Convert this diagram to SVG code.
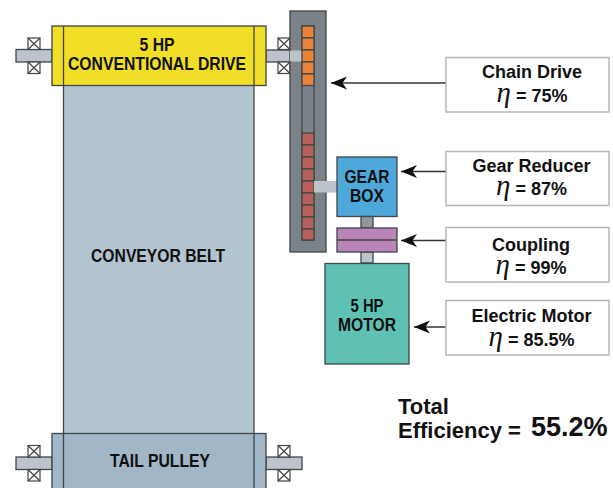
<svg xmlns="http://www.w3.org/2000/svg" width="613" height="488" viewBox="0 0 613 488">
<style>
.o{stroke:#3f4549;stroke-width:1.3}
.t{font-family:"Liberation Sans",Arial,sans-serif;font-weight:700;fill:#111;text-anchor:middle}
.d{font-size:18px}
.l{font-size:18px}
.e{font-family:"Liberation Serif","Times New Roman",serif;font-style:italic;font-weight:400;font-size:29px}
.box{fill:#fff;stroke:#b4b7b9;stroke-width:1.5}
.x{fill:#fff;stroke:#3f4549;stroke-width:1.2}
.s{fill:#bcc3cb}
.a{stroke:#333;stroke-width:1.5;fill:none;marker-end:url(#arr)}
</style>
<defs>
<marker id="arr" markerUnits="userSpaceOnUse" markerWidth="18" markerHeight="14" refX="17" refY="7" orient="auto">
<path d="M17 7L1 0.500L5.500 7L1 13.500Z" fill="#111"/>
</marker>
<g id="brg"><rect class="x" x="0" y="0" width="12" height="11.500"/><path class="x" d="M0 0L12 11.500M12 0L0 11.500" fill="none"/></g>
</defs>
<rect width="613" height="488" fill="#fff"/>
<g id="belt">
<rect class="o" x="63.500" y="80" width="190.500" height="360" fill="#b3c4d1"/>
<text class="t d" x="158" y="262" textLength="134" lengthAdjust="spacingAndGlyphs">CONVEYOR BELT</text>
</g>
<g id="head-shaft-left">
<rect class="o" x="16" y="49.500" width="36" height="12.500" fill="#bcc3cb"/>
<use href="#brg" x="28" y="38"/><use href="#brg" x="28" y="62"/>
</g>
<g id="head-shaft-right">
<rect class="o" x="266" y="50" width="37" height="12" fill="#bcc3cb"/>
<use href="#brg" x="278" y="38"/><use href="#brg" x="278" y="62"/>
</g>
<g id="drive">
<rect class="o" x="52" y="26" width="214" height="59.500" fill="#f0df26"/>
<path class="o" d="M63.500 26V85.500M254 26V85.500" fill="none"/>
<text class="t d" x="157" y="51" textLength="35" lengthAdjust="spacingAndGlyphs">5 HP</text>
<text class="t d" x="157" y="70" textLength="178" lengthAdjust="spacingAndGlyphs">CONVENTIONAL DRIVE</text>
</g>
<g id="tail-shafts">
<rect class="o" x="16" y="457" width="36" height="12.500" fill="#bcc3cb"/>
<use href="#brg" x="28" y="445.500"/><use href="#brg" x="28" y="469.500"/>
<rect class="o" x="266" y="457" width="36" height="12.500" fill="#bcc3cb"/>
<use href="#brg" x="278" y="445.500"/><use href="#brg" x="278" y="469.500"/>
</g>
<g id="tail-pulley">
<rect class="o" x="52" y="433.500" width="214" height="60" fill="#a1b6c6"/>
<path class="o" d="M63.500 433.500V488M254 433.500V488" fill="none"/>
<text class="t d" x="160" y="467" textLength="100" lengthAdjust="spacingAndGlyphs">TAIL PULLEY</text>
</g>
<g id="chain-drive">
<rect class="o" x="290" y="11" width="36" height="241" fill="#7b8288"/>
<rect class="o" x="302" y="26" width="12" height="214" fill="#7b8288"/>
<rect class="s" x="290" y="50.500" width="12" height="11"/>
<g class="o" fill="#e8833a">
<rect x="302" y="26" width="12" height="12"/><rect x="302" y="38" width="12" height="12"/><rect x="302" y="50" width="12" height="12"/><rect x="302" y="62" width="12" height="12"/><rect x="302" y="74" width="12" height="11.500"/>
</g>
<g class="o" fill="#b8615c">
<rect x="302" y="133" width="12" height="12"/><rect x="302" y="145" width="12" height="12"/><rect x="302" y="157" width="12" height="12"/><rect x="302" y="169" width="12" height="12"/><rect x="302" y="181" width="12" height="12"/><rect x="302" y="193" width="12" height="12"/><rect x="302" y="205" width="12" height="12"/><rect x="302" y="217" width="12" height="12"/><rect x="302" y="229" width="12" height="11"/>
</g>
</g>
<g id="gear-shaft"><rect x="314" y="181" width="23" height="11.500" fill="#bcc3cb"/></g>
<g id="gear-box">
<rect class="o" x="337" y="157" width="60" height="59.500" fill="#4ea8da"/>
<text class="t d" x="367" y="183" textLength="45" lengthAdjust="spacingAndGlyphs">GEAR</text>
<text class="t d" x="367" y="202" textLength="34" lengthAdjust="spacingAndGlyphs">BOX</text>
</g>
<g id="coupling-shafts">
<rect class="o" x="361" y="216.500" width="12" height="11.500" fill="#8f979d"/>
<rect class="o" x="361" y="252" width="12" height="11" fill="#bcc3cb"/>
</g>
<g id="coupling">
<rect class="o" x="337" y="228" width="60" height="24" fill="#b985b8"/>
<path class="o" d="M337 240H397"/>
</g>
<g id="motor">
<rect class="o" x="325" y="263.500" width="84" height="100.500" fill="#5fc1b3"/>
<text class="t d" x="367" y="312" textLength="33" lengthAdjust="spacingAndGlyphs">5 HP</text>
<text class="t d" x="367" y="331" textLength="58" lengthAdjust="spacingAndGlyphs">MOTOR</text>
</g>
<g id="connectors">
<path class="a" d="M446 83H331"/>
<path class="a" d="M446 171.500H401"/>
<path class="a" d="M446 240.500H401"/>
<path class="a" d="M446 327H414"/>
</g>
<g id="label-chain">
<rect class="box" x="446" y="57.500" width="163" height="54.500"/>
<text class="t l" x="532" y="78">Chain Drive</text>
<text class="t l" x="532" y="102"><tspan class="e">η</tspan> = 75%</text>
</g>
<g id="label-gear">
<rect class="box" x="446" y="151.500" width="163" height="54"/>
<text class="t l" x="531.500" y="171.500">Gear Reducer</text>
<text class="t l" x="531.500" y="195"><tspan class="e">η</tspan> = 87%</text>
</g>
<g id="label-coupling">
<rect class="box" x="446" y="227.500" width="163" height="54.500"/>
<text class="t l" x="531" y="250.500">Coupling</text>
<text class="t l" x="531" y="274"><tspan class="e">η</tspan> = 99%</text>
</g>
<g id="label-motor">
<rect class="box" x="446" y="300.500" width="163" height="54.500"/>
<text class="t l" x="531.500" y="322">Electric Motor</text>
<text class="t l" x="531.500" y="345.500"><tspan class="e">η</tspan> = 85.5%</text>
</g>
<g id="total">
<text class="t" style="text-anchor:start;font-size:22px" x="398" y="414">Total</text>
<text class="t" style="text-anchor:start;font-size:22px" x="398" y="438">Efficiency =</text>
<text class="t" style="text-anchor:start;font-size:27px" x="531" y="436">55.2%</text>
</g>
</svg>
